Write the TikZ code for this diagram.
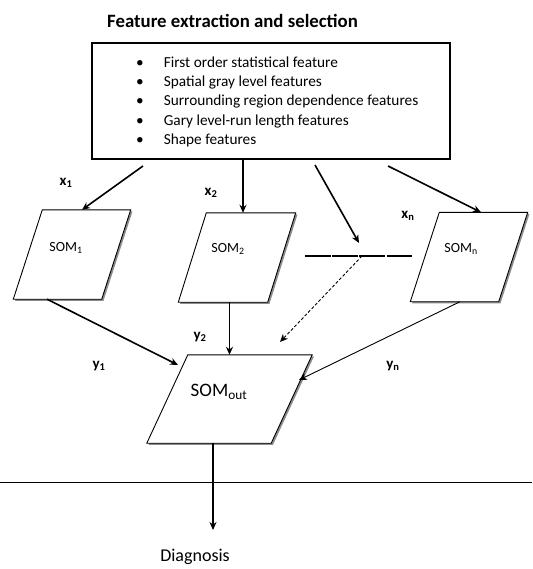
\documentclass[tikz,border=0pt]{standalone}
\usepackage{fontspec}
\setmainfont{Carlito}
\usetikzlibrary{positioning, arrows.meta}

% parallelogram drawn round a named node: #1 node, #2 slant
\newcommand{\somframe}[2]{%
	\fill[black!45] ([shift={(#2pt+1.8pt,-1.6pt)}]#1.north west) -- ([shift={(1.8pt,-1.6pt)}]#1.north east)
		-- ([shift={(-#2pt+1.8pt,-1.6pt)}]#1.south east) -- ([shift={(1.8pt,-1.6pt)}]#1.south west) -- cycle;
	\draw[som frame] ([xshift=#2pt]#1.north west) -- (#1.north east)
		-- ([xshift=-#2pt]#1.south east) -- (#1.south west) -- cycle;}

\begin{document}
\begin{tikzpicture}[
		x=1pt, y=-1pt,
		feature box/.style={draw,line width=1.3pt,minimum width=358pt,minimum height=116pt,inner sep=0pt},
		som/.style={minimum width=117pt,minimum height=89pt,inner sep=0pt},
		som frame/.style={draw,line width=0.9pt,fill=white},
		link/.style={line width=1.6pt,-{Stealth[length=8pt,width=7pt]}},
		thin link/.style={line width=0.9pt,-{Stealth[length=8pt,width=7pt]}},
		weight/.style={font=\fontsize{15}{15}\selectfont\bfseries},
		som label/.style={font=\fontsize{14}{14}\selectfont}
		]
		\useasboundingbox (0,0) rectangle (532,569);
		
		% Feature extraction block
		\node[font=\fontsize{18.8}{18.8}\selectfont\bfseries,anchor=west,inner sep=0pt] (title) at (107,21) {Feature extraction and selection};
		\node[feature box] (feat) at (271,101) {};
		\node[font=\fontsize{15.3}{19.3}\selectfont,anchor=west,inner sep=0pt] (featlist) at (136,102) {%
			\begin{tabular}{@{}l@{\hspace{20pt}}l@{}}
			\textbullet & First order statistical feature\\
			\textbullet & Spatial gray level features\\
			\textbullet & Surrounding region dependence features\\
			\textbullet & Gary level-run length features\\
			\textbullet & Shape features
			\end{tabular}};
		
		% SOM modules
		\node[som] (som1) at (72,254.5) {};
		\node[som] (som2) at (237,257.5) {};
		\node[som] (somn) at (469,257) {};
		\node[som,minimum width=165pt,minimum height=88pt] (somout) at (229.5,399) {};
		\somframe{som1}{29}
		\somframe{som2}{28}
		\somframe{somn}{29}
		\somframe{somout}{41}
		\node[som label] (som1 text) at (66,248) {SOM\textsubscript{1}};
		\node[som label] (som2 text) at (228,249) {SOM\textsubscript{2}};
		\node[som label] (somn text) at (461,249) {SOM\textsubscript{n}};
		\node[font=\fontsize{19}{19}\selectfont] (somout text) at (219,392) {SOM\textsubscript{out}};
		
		% free ends
		\coordinate (x1s) at (143,166);
		\coordinate (x2s) at (243,159);
		\coordinate (xks) at (315,165);
		\coordinate (xke) at (359,243);
		\coordinate (dashl) at (305,256);
		\coordinate (dashr) at (412,256);
		\coordinate (dashm) at (362,256);
		\coordinate (dashe) at (280,342);
		\coordinate (xns) at (388,166);
		\coordinate (cut l) at (0,482);
		\coordinate (cut r) at (532,482);
		\coordinate (diage) at (213,530);
		
		% inputs
		\draw[link] (x1s) -- ([xshift=10]som1.north);
		\draw[link] (x2s) -- (x2s |- som2.north);
		\draw[link] (xks) -- (xke);
		\draw[link] (xns) -- ([xshift=12]somn.north);
		\draw[line width=1.3pt,dash pattern=on 26pt off 1.2pt] (dashl) -- (dashr);
		\draw[thin link,densely dashed] (dashm) -- (dashe);
		
		% outputs
		\draw[link] ([xshift=-25]som1.south) -- (178,365);
		\draw[link] (som2.south -| somout.north) -- (somout.north);
		\draw[thin link] ([xshift=-9]somn.south) -- (299,380);
		\draw[link] ([xshift=-16.5]somout.south) -- (diage);
		\draw[line width=0.9pt] (cut l) -- (cut r);
		
		% labels
		\node[weight] (x1) at (66,183) {x\textsubscript{1}};
		\node[weight] (x2) at (211,193) {x\textsubscript{2}};
		\node[weight] (xn) at (408,216) {x\textsubscript{n}};
		\node[weight] (y1) at (99,366) {y\textsubscript{1}};
		\node[weight] (y2) at (200,337) {y\textsubscript{2}};
		\node[weight] (yn) at (393,366) {y\textsubscript{n}};
		\node[font=\fontsize{18}{18}\selectfont] (diag) at (195,557) {Diagnosis};
		
	\end{tikzpicture}
\end{document}
